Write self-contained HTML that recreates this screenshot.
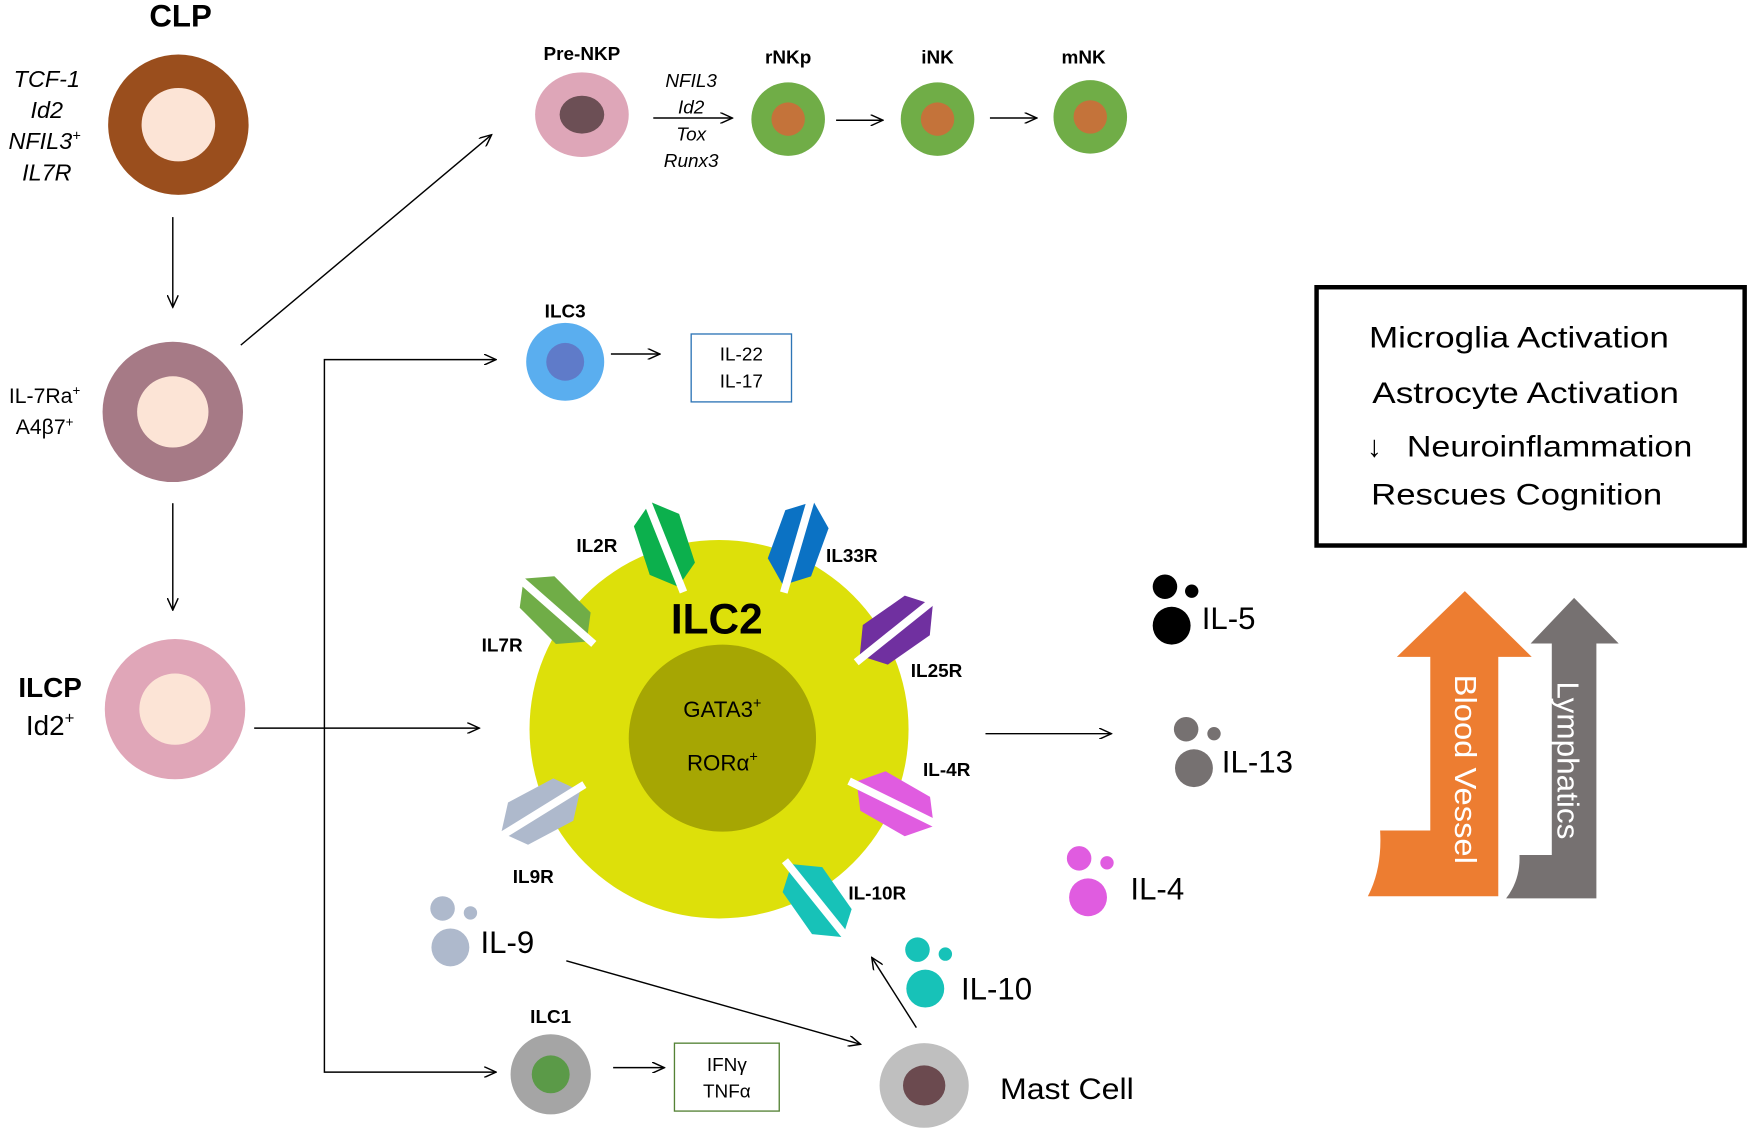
<!DOCTYPE html>
<html><head><meta charset="utf-8"><style>html,body{margin:0;padding:0;background:#fff}svg{display:block}</style></head>
<body>
<svg width="1748" height="1130" viewBox="0 0 1568 1015" preserveAspectRatio="none" xmlns="http://www.w3.org/2000/svg" font-family="Liberation Sans, Arial, sans-serif">
<defs>
<marker id="a" markerWidth="12" markerHeight="10" refX="11" refY="5" orient="auto" markerUnits="userSpaceOnUse">
<path d="M0,0 L11,5 L0,10" fill="none" stroke="#000" stroke-width="1.3"/></marker>
<g id="rec">
<polygon points="0,-40 -21,-24 -21,22 0,40 21,24 21,-22"/>
<line x1="-3" y1="-46" x2="3" y2="46" stroke="#fff" stroke-width="7"/>
</g>
</defs>
<rect width="1568" height="1015" fill="#fff"/>

<!-- cells -->
<circle cx="160" cy="112" r="63" fill="#9a4e1d"/><circle cx="160" cy="112" r="33" fill="#fce4d6"/>
<circle cx="155" cy="370" r="63" fill="#a67a86"/><circle cx="155" cy="370" r="32" fill="#fce4d6"/>
<circle cx="157" cy="637" r="63" fill="#e0a6b8"/><circle cx="157" cy="637" r="32" fill="#fce4d6"/>
<ellipse cx="522" cy="103" rx="42" ry="38" fill="#dea6b8"/><ellipse cx="522" cy="103" rx="20" ry="17" fill="#6c4f55"/>
<circle cx="707" cy="107" r="33" fill="#70ad47"/><circle cx="707" cy="107" r="15" fill="#c4733a"/>
<circle cx="841" cy="107" r="33" fill="#70ad47"/><circle cx="841" cy="107" r="15" fill="#c4733a"/>
<circle cx="978" cy="105" r="33" fill="#70ad47"/><circle cx="978" cy="105" r="15" fill="#c4733a"/>
<circle cx="507" cy="325" r="35" fill="#5aaeef"/><circle cx="507" cy="325" r="17" fill="#5f7bc9"/>
<circle cx="494" cy="965" r="36" fill="#a5a5a5"/><circle cx="494" cy="965" r="17" fill="#5b9a48"/>
<ellipse cx="829" cy="975" rx="40" ry="38" fill="#bfbfbf"/><ellipse cx="829" cy="975" rx="19" ry="18" fill="#6b4a4f"/>

<circle cx="645" cy="655" r="170" fill="#dde00a"/>
<circle cx="648" cy="663" r="84" fill="#a6a603"/>

<!-- receptors -->
<g fill="#0cb04d" transform="translate(596,489) rotate(-18)"><use href="#rec"/></g>
<g fill="#0b72c4" transform="translate(716,488) rotate(20)"><use href="#rec"/></g>
<g fill="#70ad47" transform="translate(498,548) rotate(-45)"><use href="#rec"/></g>
<g fill="#7030a0" transform="translate(804,566) rotate(55)"><use href="#rec"/></g>
<g fill="#e05ce0" transform="translate(803,722) rotate(120)"><use href="#rec"/></g>
<g fill="#aeb9cc" transform="translate(485,729) rotate(62)"><use href="#rec"/></g>
<g fill="#17c2b8" transform="translate(733,809) rotate(145)"><use href="#rec"/></g>

<!-- cytokine dots -->
<circle cx="1045" cy="527" r="11" fill="#000"/><circle cx="1069" cy="531" r="6" fill="#000"/><circle cx="1051" cy="562" r="17" fill="#000"/>
<circle cx="1064" cy="655" r="11" fill="#767171"/><circle cx="1089" cy="659" r="6" fill="#767171"/><circle cx="1071" cy="690" r="17" fill="#767171"/>
<circle cx="968" cy="771" r="11" fill="#e05ce0"/><circle cx="993" cy="775" r="6" fill="#e05ce0"/><circle cx="976" cy="806" r="17" fill="#e05ce0"/>
<circle cx="397" cy="816" r="11" fill="#aeb9cc"/><circle cx="422" cy="820" r="6" fill="#aeb9cc"/><circle cx="404" cy="851" r="17" fill="#aeb9cc"/>
<circle cx="823" cy="853" r="11" fill="#17c2b8"/><circle cx="848" cy="857" r="6" fill="#17c2b8"/><circle cx="830" cy="888" r="17" fill="#17c2b8"/>

<!-- arrows -->
<g stroke="#000" stroke-width="1.3" fill="none" marker-end="url(#a)">
<line x1="155" y1="195" x2="155" y2="276"/>
<line x1="155" y1="452" x2="155" y2="548"/>
<line x1="216" y1="310" x2="441" y2="121"/>
<line x1="586" y1="106" x2="657" y2="106"/>
<line x1="750" y1="108" x2="792" y2="108"/>
<line x1="888" y1="106" x2="930" y2="106"/>
<line x1="228" y1="654" x2="430" y2="654"/>
<line x1="548" y1="318" x2="592" y2="318"/>
<line x1="884" y1="659" x2="997" y2="659"/>
<line x1="550" y1="959" x2="596" y2="959"/>
<line x1="508" y1="863" x2="772" y2="938"/>
<line x1="822" y1="923" x2="782" y2="860"/>
<polyline points="291,640 291,323 445,323"/>
<polyline points="291,640 291,963 445,963"/>
</g>

<rect x="620" y="300" width="90" height="61" fill="none" stroke="#2e75b6" stroke-width="1.2"/>
<rect x="605" y="937" width="94" height="61" fill="none" stroke="#548235" stroke-width="1.2"/>
<rect x="1181" y="258" width="384" height="232" fill="none" stroke="#000" stroke-width="4"/>

<!-- big arrows -->
<path d="M1314,531 L1374,590 L1344,590 L1344,805 L1227,805 Q1240,780 1238,746 L1283,746 L1283,590 L1253,590 Z" fill="#ed7d31"/>
<path d="M1412,537 L1452,578 L1432,578 L1432,807 L1351,807 Q1364,790 1363,768 L1392,768 L1392,578 L1373,578 Z" fill="#767171"/>
<text transform="translate(1305,606) rotate(90)" font-size="27" fill="#fff" textLength="170" lengthAdjust="spacingAndGlyphs">Blood Vessel</text>
<text transform="translate(1397,612) rotate(90)" font-size="27" fill="#fff" textLength="142" lengthAdjust="spacingAndGlyphs">Lymphatics</text>

<!-- text -->
<g fill="#000">
<text x="162" y="24" font-size="28" font-weight="bold" text-anchor="middle">CLP</text>
<g font-style="italic" font-size="21" text-anchor="middle">
<text x="42" y="78">TCF-1</text><text x="42" y="106">Id2</text><text x="40" y="134">NFIL3<tspan font-size="13" dy="-8">+</tspan></text><text x="42" y="162">IL7R</text></g>
<text x="40" y="362" font-size="19" text-anchor="middle">IL-7Ra<tspan font-size="12" dy="-7">+</tspan></text>
<text x="40" y="390" font-size="19" text-anchor="middle">A4β7<tspan font-size="12" dy="-7">+</tspan></text>
<text x="45" y="626" font-size="25" font-weight="bold" text-anchor="middle">ILCP</text>
<text x="45" y="660" font-size="25" text-anchor="middle">Id2<tspan font-size="15" dy="-10">+</tspan></text>
<g font-size="17" font-weight="bold" text-anchor="middle">
<text x="522" y="54">Pre-NKP</text><text x="707" y="57">rNKp</text><text x="841" y="57">iNK</text><text x="972" y="57">mNK</text>
<text x="507" y="285">ILC3</text><text x="494" y="919">ILC1</text></g>
<g font-style="italic" font-size="17" text-anchor="middle">
<text x="620" y="78">NFIL3</text><text x="620" y="102">Id2</text><text x="620" y="126">Tox</text><text x="620" y="150">Runx3</text></g>
<text x="665" y="324" font-size="17" text-anchor="middle">IL-22</text><text x="665" y="348" font-size="17" text-anchor="middle">IL-17</text>
<text x="652" y="962" font-size="17" text-anchor="middle">IFNγ</text><text x="652" y="986" font-size="17" text-anchor="middle">TNFα</text>
<text x="643" y="569" font-size="38" font-weight="bold" text-anchor="middle">ILC2</text>
<text x="648" y="644" font-size="20" text-anchor="middle">GATA3<tspan font-size="13" dy="-8">+</tspan></text>
<text x="648" y="692" font-size="20" text-anchor="middle">RORα<tspan font-size="13" dy="-8">+</tspan></text>
<g font-size="17" font-weight="bold">
<text x="517" y="496">IL2R</text><text x="741" y="505">IL33R</text><text x="432" y="585">IL7R</text><text x="817" y="608">IL25R</text>
<text x="828" y="697">IL-4R</text><text x="460" y="793">IL9R</text><text x="761" y="808">IL-10R</text></g>
<g font-size="28"><text x="1078" y="565">IL-5</text><text x="1096" y="694">IL-13</text><text x="1014" y="808">IL-4</text>
<text x="431" y="856">IL-9</text><text x="862" y="898">IL-10</text></g>
<text x="897" y="987" font-size="27" textLength="120" lengthAdjust="spacingAndGlyphs">Mast Cell</text>
<g font-size="27">
<text x="1228" y="312" textLength="269" lengthAdjust="spacingAndGlyphs">Microglia Activation</text>
<text x="1231" y="362" textLength="275" lengthAdjust="spacingAndGlyphs">Astrocyte Activation</text>
<text x="1226" y="410">↓</text>
<text x="1262" y="410" textLength="256" lengthAdjust="spacingAndGlyphs">Neuroinflammation</text>
<text x="1230" y="453" textLength="261" lengthAdjust="spacingAndGlyphs">Rescues Cognition</text></g>
</g>
</svg>
</body></html>
